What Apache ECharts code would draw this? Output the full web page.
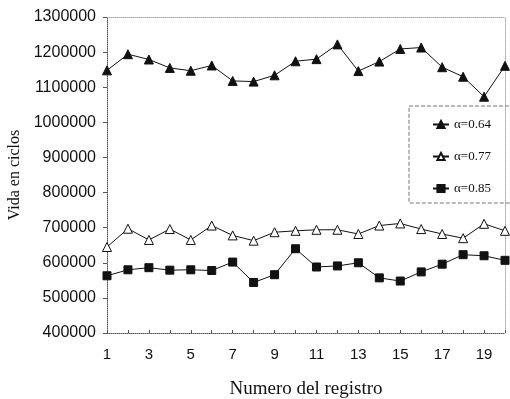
<!DOCTYPE html>
<html><head><meta charset="utf-8">
<script src="https://cdn.jsdelivr.net/npm/echarts@6/dist/echarts.min.js"></script>
<style>html,body{margin:0;padding:0;background:#fff}#c{width:510px;height:399px}</style>
</head><body><div id="c"></div>
<script>
var categories = ['1','2','3','4','5','6','7','8','9','10','11','12','13','14','15','16','17','18','19','20'];
var serie064 = [1148000,1194000,1179000,1155000,1147000,1162000,1118000,1116000,1134000,1174000,1180000,1222000,1146000,1173000,1209000,1213000,1157000,1130000,1073000,1161000];
var serie077 = [645000,697000,665000,696000,665000,706000,678000,663000,687000,691000,694000,694000,682000,706000,712000,696000,682000,670000,711000,691000];
var serie085 = [563000,580000,586000,579000,580000,578000,602000,544000,566000,640000,588000,591000,600000,557000,548000,574000,596000,623000,620000,607000];
var names = ['\u03b1=0.64','\u03b1=0.77','\u03b1=0.85'];

var chart = echarts.init(document.getElementById('c'));
var serif = 'Liberation Serif, DejaVu Serif, serif';
var sans = 'Liberation Sans, Arial, sans-serif';
function mk(name, data, symbol, fill, size){
  return {name:name, type:'line', data:data, symbol:symbol, symbolSize:size,
    lineStyle:{color:'#111', width:1}, itemStyle:{color:fill, borderColor:'#111', borderWidth:1},
    emphasis:{disabled:true}, animation:false, z:3};
}
chart.setOption({
  animation:false,
  grid:{left:107, right:5, top:17, bottom:66, outerBoundsMode:'none', containLabel:false},
  legend:{
    orient:'vertical', left:409, top:106,
    padding:[12,40,8,23], itemGap:19, itemWidth:16, itemHeight:9,
    borderColor:'#777', borderWidth:1, borderType:'dashed',
    textStyle:{fontFamily:serif, fontSize:13, color:'#111'},
    data:names
  },
  xAxis:[{
    type:'category', data:categories, boundaryGap:false,
    axisLine:{lineStyle:{color:'#555', type:'dotted', width:1}},
    axisTick:{show:true, inside:true, length:3, interval:0, lineStyle:{color:'#555'}},
    axisLabel:{interval:1, color:'#111', fontFamily:sans, fontSize:15, margin:14},
    name:'Numero del registro', nameLocation:'middle', nameGap:47,
    nameTextStyle:{fontFamily:serif, fontSize:19, color:'#111'},
    splitLine:{show:false}
  },{
    type:'category', data:categories, boundaryGap:false, position:'top',
    axisLine:{lineStyle:{color:'#aaa', type:'dotted'}}, axisTick:{show:false}, axisLabel:{show:false}
  }],
  yAxis:[{
    type:'value', min:400000, max:1300000, interval:100000,
    axisLine:{show:true, lineStyle:{color:'#555', type:'dotted'}},
    axisTick:{show:true, length:4, lineStyle:{color:'#555'}},
    axisLabel:{color:'#111', fontFamily:sans, fontSize:16, margin:11, formatter:function(v){return String(v);}},
    splitLine:{show:false},
    name:'Vida en ciclos', nameLocation:'middle', nameGap:79, nameRotate:90,
    nameTextStyle:{fontFamily:serif, fontSize:16, color:'#111'}
  },{
    type:'value', min:400000, max:1300000, interval:100000, position:'right',
    axisLine:{show:true, lineStyle:{color:'#aaa', type:'dotted'}},
    axisTick:{show:false}, axisLabel:{show:false}, splitLine:{show:false}
  }],
  series:[
    mk(names[0], serie064, 'triangle', '#111', 9),
    mk(names[1], serie077, 'triangle', '#fff', 9),
    mk(names[2], serie085, 'rect', '#111', 8)
  ]
});
</script></body></html>
